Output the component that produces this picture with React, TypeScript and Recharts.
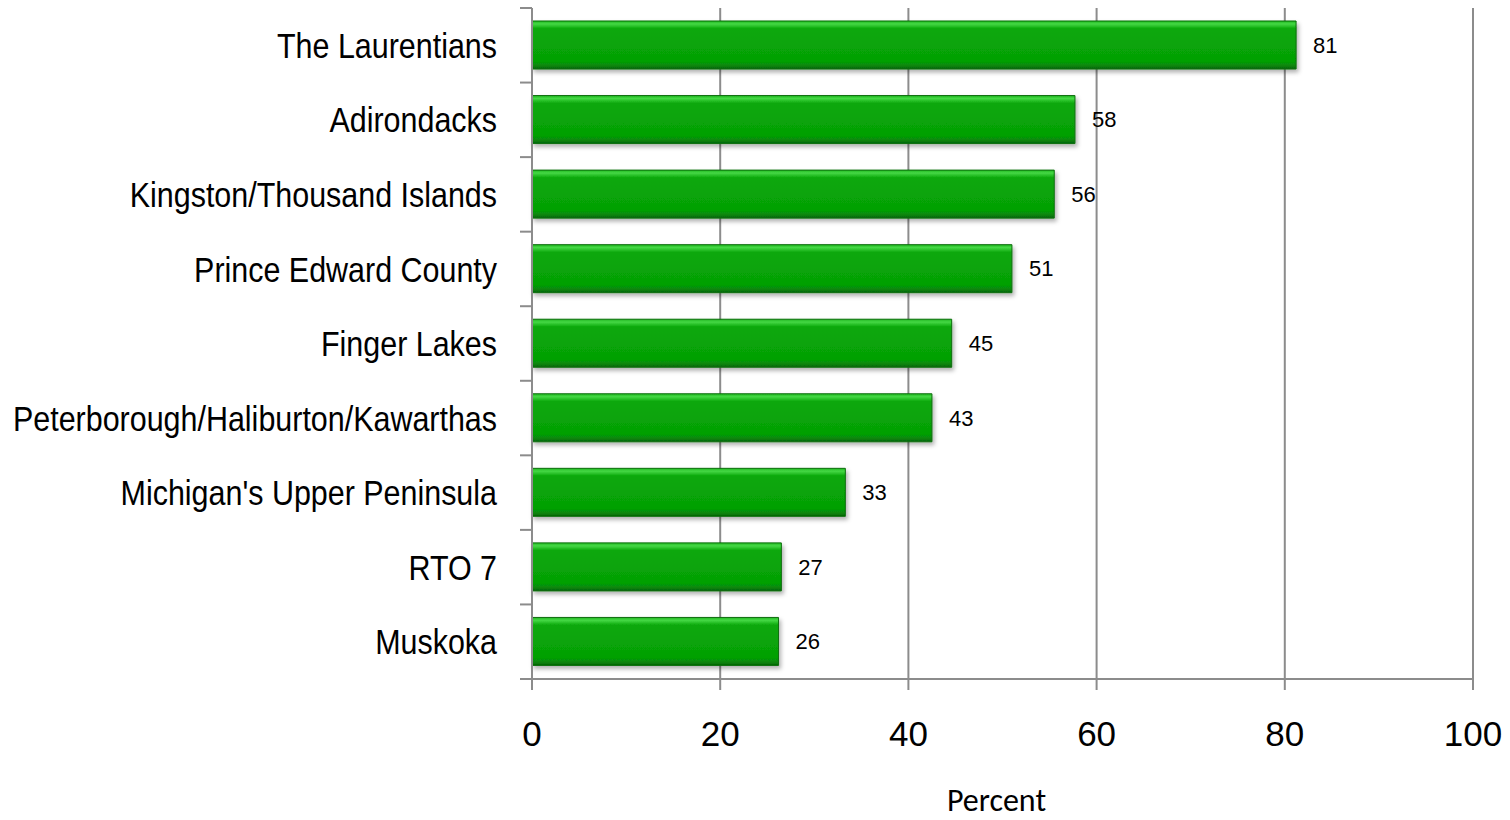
import { BarChart, Bar, XAxis, YAxis, CartesianGrid, LabelList, Label } from "recharts"

const regions = [
  "The Laurentians",
  "Adirondacks",
  "Kingston/Thousand Islands",
  "Prince Edward County",
  "Finger Lakes",
  "Peterborough/Haliburton/Kawarthas",
  "Michigan's Upper Peninsula",
  "RTO 7",
  "Muskoka",
]
const percents = [81.2, 57.7, 55.5, 51.0, 44.6, 42.5, 33.3, 26.5, 26.2]
const xTicks = [0, 20, 40, 60, 80, 100]

const data = regions.map((name, i) => ({ name, value: percents[i] }))

const W = 1510
const H = 820
const M = { top: 8, right: 37, bottom: 0, left: 0 }
const X_AXIS_H = 141
const Y_AXIS_W = 532
const band = (H - M.top - M.bottom - X_AXIS_H) / regions.length
const AXIS_GRAY = "#8c8c8c"
const ARIAL = "'Liberation Sans', Arial, sans-serif"

// category labels in the source are a narrow sans, so squeeze Arial a bit
function RegionTick(props: any) {
  const { x, y, payload, index } = props
  const ax = x + 35
  return (
    <g>
      <line x1={ax - 12} x2={ax} y1={y - band / 2} y2={y - band / 2} stroke={AXIS_GRAY} strokeWidth={2} />
      {index === regions.length - 1 && (
        <line x1={ax - 12} x2={ax} y1={y + band / 2} y2={y + band / 2} stroke={AXIS_GRAY} strokeWidth={2} />
      )}
      <text
        transform={`translate(${x},${y}) scale(0.87,1)`}
        x={0}
        y={0}
        dy="0.36em"
        textAnchor="end"
        fontSize={35}
        fontFamily={ARIAL}
        fill="#000"
      >
        {payload.value}
      </text>
    </g>
  )
}

function PercentLabel(props: any) {
  const vb = props.viewBox
  return (
    <text
      x={vb.x + vb.width / 2 - 6}
      y={vb.y + vb.height - 9}
      textAnchor="middle"
      fontSize={32}
      fill="#000"
      fontFamily="Carlito, Lato, 'Open Sans', sans-serif"
    >
      Percent
    </text>
  )
}

export default function App() {
  return (
    <div style={{ position: "absolute", left: 0, top: 0, width: W, height: H, background: "#fff" }}>
      <svg width={0} height={0} style={{ position: "absolute" }}>
        <defs>
          <linearGradient id="greenBar" x1="0" y1="0" x2="0" y2="1">
            <stop offset="0%" stopColor="#1fb81f" />
            <stop offset="6%" stopColor="#45d845" />
            <stop offset="16%" stopColor="#0aa80a" />
            <stop offset="84%" stopColor="#05a005" />
            <stop offset="94%" stopColor="#08820a" />
            <stop offset="100%" stopColor="#056405" />
          </linearGradient>
          <filter id="barShadow" x="-5%" y="-20%" width="110%" height="160%">
            <feDropShadow dx="2" dy="3" stdDeviation="2" floodColor="#000" floodOpacity="0.3" />
          </filter>
        </defs>
      </svg>
      <BarChart width={W} height={H} data={data} layout="vertical" margin={M}>
        <CartesianGrid horizontal={false} stroke={AXIS_GRAY} strokeWidth={2} />
        <XAxis
          type="number"
          domain={[0, 100]}
          ticks={xTicks}
          height={X_AXIS_H}
          stroke={AXIS_GRAY}
          strokeWidth={2}
          tickSize={11}
          tickMargin={31}
          tick={{ fontSize: 35, fill: "#000", fontFamily: ARIAL }}
        >
          <Label content={<PercentLabel />} position="insideBottom" />
        </XAxis>
        <YAxis
          type="category"
          dataKey="name"
          width={Y_AXIS_W}
          stroke={AXIS_GRAY}
          strokeWidth={2}
          tickLine={false}
          tickSize={12}
          tickMargin={23}
          tick={<RegionTick />}
          interval={0}
        />
        <Bar
          dataKey="value"
          barSize={48}
          fill="url(#greenBar)"
          stroke="#0b6e0b"
          strokeWidth={1}
          filter="url(#barShadow)"
          isAnimationActive={false}
        >
          <LabelList
            dataKey="value"
            position="right"
            offset={17}
            formatter={(v: any) => Math.round(Number(v))}
            fontSize={22}
            fill="#000"
            fontFamily={ARIAL}
          />
        </Bar>
      </BarChart>
    </div>
  )
}
